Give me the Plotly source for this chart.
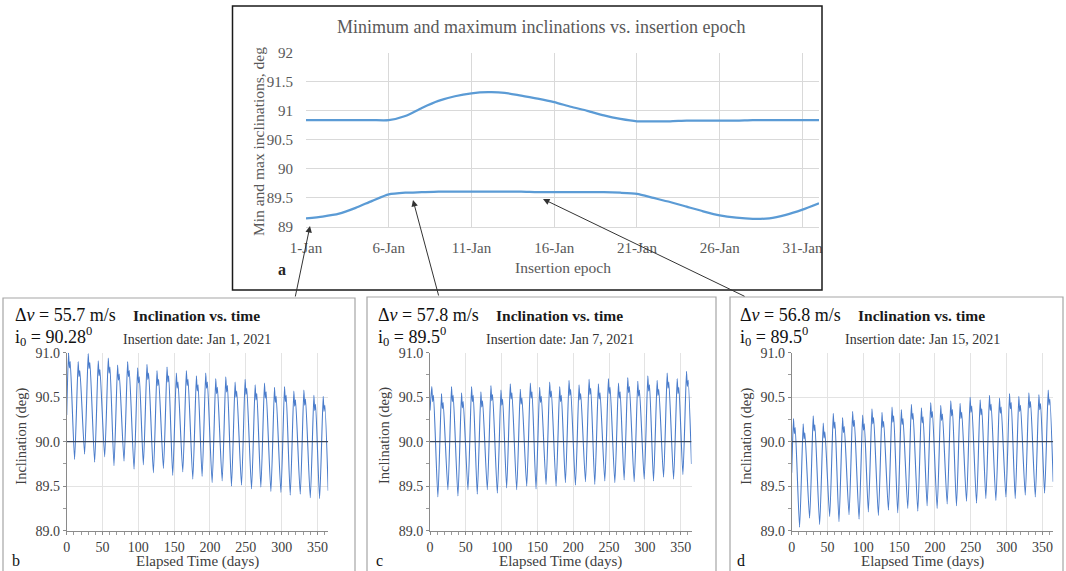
import plotly.graph_objects as go

W, H = 1066, 571


def px(x):
    return x / W


def py(y):
    return 1 - y / H


SERIF = "Liberation Serif, Times New Roman, serif"

# ---------------- Top chart (a) data ----------------
jan_day = list(range(1, 33))
max_incl = [90.84, 90.84, 90.84, 90.84, 90.84, 90.84, 90.91, 91.05, 91.17, 91.25, 91.30,
            91.32, 91.31, 91.26, 91.21, 91.15, 91.07, 91.00, 90.92, 90.86, 90.82, 90.82,
            90.82, 90.83, 90.83, 90.83, 90.83, 90.84, 90.84, 90.84, 90.84, 90.84]
min_incl = [89.15, 89.18, 89.23, 89.33, 89.45, 89.56, 89.59, 89.60, 89.61, 89.61, 89.61,
            89.61, 89.61, 89.61, 89.60, 89.60, 89.60, 89.60, 89.60, 89.59, 89.57, 89.50,
            89.43, 89.35, 89.27, 89.20, 89.16, 89.14, 89.15, 89.21, 89.30, 89.41]
top_tickvals = [1, 6, 11, 16, 21, 26, 31]
top_ticktext = ["1-Jan", "6-Jan", "11-Jan", "16-Jan", "21-Jan", "26-Jan", "31-Jan"]
top_yvals = [89, 89.5, 90, 90.5, 91, 91.5, 92]
top_ytext = ["89", "89.5", "90", "90.5", "91", "91.5", "92"]

# ---------------- Lower charts (b, c, d) data ----------------
peak_day = [2.5, 16, 30, 44, 58, 71, 85, 99, 112, 126, 140, 153, 167, 181, 194, 208, 222,
            235, 249, 263, 276, 290, 304, 317, 331, 345, 358]
dip_day = [3.7, 17.2, 31.2, 45.2, 59.2, 72.2, 86.2, 100.2, 113.2, 127.2, 141.2, 154.2,
           168.2, 182.2, 195.2, 209.2, 223.2, 236.2, 250.2, 264.2, 277.2, 291.2, 305.2,
           318.2, 332.2, 346.2, 359.2]
shoulder_day = [4.9, 18.4, 32.4, 46.4, 60.4, 73.4, 87.4, 101.4, 114.4, 128.4, 142.4,
                155.4, 169.4, 183.4, 196.4, 210.4, 224.4, 237.4, 251.4, 265.4, 278.4,
                292.4, 306.4, 319.4, 333.4, 347.4, 360.4]
trough_day = [11, 25, 39, 53, 66, 80, 94, 107, 121, 135, 148, 162, 176, 189, 203, 217,
              230, 244, 258, 271, 285, 299, 312, 326, 340, 353]
end_day = [0, 365]

# panel b (Jan 1)
b_ends = [90.30, 89.45]
b_peak = [91.00, 90.90, 90.99, 90.91, 90.94, 90.86, 90.90, 90.83, 90.87, 90.80, 90.84,
          90.77, 90.80, 90.74, 90.77, 90.71, 90.73, 90.67, 90.70, 90.64, 90.66, 90.61,
          90.62, 90.57, 90.58, 90.52, 90.51]
b_dip = [90.83, 90.73, 90.82, 90.74, 90.77, 90.69, 90.73, 90.66, 90.70, 90.63, 90.67,
         90.60, 90.63, 90.57, 90.60, 90.54, 90.56, 90.50, 90.53, 90.47, 90.49, 90.44,
         90.45, 90.40, 90.41, 90.35, 90.34]
b_shoulder = [90.90, 90.80, 90.89, 90.81, 90.84, 90.76, 90.80, 90.73, 90.77, 90.70, 90.74,
              90.67, 90.70, 90.64, 90.67, 90.61, 90.63, 90.57, 90.60, 90.54, 90.56, 90.51,
              90.52, 90.47, 90.48, 90.42, 90.41]
b_trough = [89.80, 89.86, 89.77, 89.83, 89.73, 89.78, 89.69, 89.74, 89.65, 89.70, 89.62,
            89.66, 89.58, 89.61, 89.54, 89.56, 89.50, 89.51, 89.47, 89.49, 89.44, 89.43,
            89.40, 89.41, 89.37, 89.36]

# panel c (Jan 7)
c_ends = [90.35, 89.75]
c_peak = [90.62, 90.54, 90.62, 90.55, 90.62, 90.56, 90.63, 90.58, 90.65, 90.59, 90.66,
          90.61, 90.67, 90.62, 90.69, 90.64, 90.70, 90.65, 90.71, 90.66, 90.72, 90.68,
          90.74, 90.69, 90.77, 90.71, 90.79]
c_dip = [90.45, 90.37, 90.45, 90.38, 90.45, 90.39, 90.46, 90.41, 90.48, 90.42, 90.49,
         90.44, 90.50, 90.45, 90.52, 90.47, 90.53, 90.48, 90.54, 90.49, 90.55, 90.51,
         90.57, 90.52, 90.60, 90.54, 90.62]
c_shoulder = [90.52, 90.44, 90.52, 90.45, 90.52, 90.46, 90.53, 90.48, 90.55, 90.49, 90.56,
              90.51, 90.57, 90.52, 90.59, 90.54, 90.60, 90.55, 90.61, 90.56, 90.62, 90.58,
              90.64, 90.59, 90.67, 90.61, 90.69]
c_trough = [89.38, 89.46, 89.39, 89.46, 89.41, 89.46, 89.42, 89.48, 89.46, 89.50, 89.47,
            89.52, 89.50, 89.54, 89.51, 89.55, 89.52, 89.56, 89.54, 89.57, 89.55, 89.58,
            89.56, 89.60, 89.58, 89.63]

# panel d (Jan 15)
d_ends = [89.65, 89.55]
d_peak = [90.26, 90.20, 90.29, 90.21, 90.32, 90.27, 90.34, 90.30, 90.37, 90.33, 90.39,
          90.36, 90.42, 90.38, 90.44, 90.41, 90.46, 90.43, 90.50, 90.47, 90.52, 90.49,
          90.54, 90.51, 90.55, 90.53, 90.58]
d_dip = [90.09, 90.03, 90.12, 90.04, 90.15, 90.10, 90.17, 90.13, 90.20, 90.16, 90.22,
         90.19, 90.25, 90.21, 90.27, 90.24, 90.29, 90.26, 90.33, 90.30, 90.35, 90.32,
         90.37, 90.34, 90.38, 90.36, 90.41]
d_shoulder = [90.16, 90.10, 90.19, 90.11, 90.22, 90.17, 90.24, 90.20, 90.27, 90.23, 90.29,
              90.26, 90.32, 90.28, 90.34, 90.31, 90.36, 90.33, 90.40, 90.37, 90.42, 90.39,
              90.44, 90.41, 90.45, 90.43, 90.48]
d_trough = [89.04, 89.14, 89.07, 89.16, 89.10, 89.18, 89.13, 89.21, 89.17, 89.23, 89.20,
            89.25, 89.22, 89.28, 89.25, 89.30, 89.28, 89.33, 89.31, 89.36, 89.34, 89.38,
            89.36, 89.40, 89.38, 89.42]

panel_labels = ["b", "c", "d"]
dv_text = ["55.7", "57.8", "56.8"]
i0_text = ["90.28", "89.5", "89.5"]
ins_dates = ["Jan 1, 2021", "Jan 7, 2021", "Jan 15, 2021"]
ref_line = [90.0, 90.0]


def build(ends, peaks, dips, shoulders, troughs):
    xs = [end_day[0]]
    ys = [ends[0]]
    for k in range(len(peak_day)):
        xs += [peak_day[k], dip_day[k], shoulder_day[k]]
        ys += [peaks[k], dips[k], shoulders[k]]
        if k < len(trough_day):
            xs.append(trough_day[k])
            ys.append(troughs[k])
    xs.append(end_day[1])
    ys.append(ends[1])
    return xs, ys


fig = go.Figure()

# top chart
fig.add_trace(go.Scatter(x=jan_day, y=max_incl, mode="lines", xaxis="x", yaxis="y",
                         line=dict(color="#5B9BD5", width=2.25, shape="spline", smoothing=0.6)))
fig.add_trace(go.Scatter(x=jan_day, y=min_incl, mode="lines", xaxis="x", yaxis="y",
                         line=dict(color="#5B9BD5", width=2.25, shape="spline", smoothing=0.6)))

series = [(b_ends, b_peak, b_dip, b_shoulder, b_trough),
          (c_ends, c_peak, c_dip, c_shoulder, c_trough),
          (d_ends, d_peak, d_dip, d_shoulder, d_trough)]
for i, s in enumerate(series):
    xs, ys = build(*s)
    xa = "x%d" % (i + 2)
    ya = "y%d" % (i + 2)
    fig.add_trace(go.Scatter(x=xs, y=ys, mode="lines", xaxis=xa, yaxis=ya,
                             line=dict(color="#4A7CCB", width=1.1, shape="spline", smoothing=0.6)))
    fig.add_trace(go.Scatter(x=end_day, y=ref_line, mode="lines", xaxis=xa, yaxis=ya,
                             line=dict(color="#3A4558", width=1.3)))

# layout axes
layout = dict(
    width=W, height=H, autosize=False,
    margin=dict(l=0, r=0, t=0, b=0),
    paper_bgcolor="white", plot_bgcolor="white",
    showlegend=False,
)

tick_top = dict(family=SERIF, size=15, color="#595959")
layout["xaxis"] = dict(domain=[px(306), px(819)], range=[1, 32], tickvals=top_tickvals,
                       ticktext=top_ticktext, showgrid=True, gridcolor="#d9d9d9", gridwidth=1,
                       zeroline=False, showline=True, linecolor="#d9d9d9", ticks="outside",
                       ticklen=7, tickcolor="rgba(0,0,0,0)", tickfont=tick_top,
                       anchor="y", automargin=False, fixedrange=True)
layout["yaxis"] = dict(domain=[py(227), py(52.7)], range=[89, 92], tickvals=top_yvals,
                       ticktext=top_ytext, showgrid=True, gridcolor="#d9d9d9", gridwidth=1,
                       zeroline=False, showline=False, ticks="outside", ticklen=9,
                       tickcolor="rgba(0,0,0,0)", tickfont=tick_top, anchor="x",
                       automargin=False, fixedrange=True)

lefts = [66.7, 430.0, 791.7]
pw = 261.5
tick_low = dict(family=SERIF, size=14, color="#404040")
for i, L in enumerate(lefts):
    n = i + 2
    layout["xaxis%d" % n] = dict(
        domain=[px(L), px(L + pw)], range=[0, 365], tick0=0, dtick=50,
        showgrid=True, gridcolor="#e3e3e3", gridwidth=1, zeroline=False,
        showline=True, linecolor="#8a8a8a", linewidth=1, ticks="outside", ticklen=3,
        tickcolor="#8a8a8a", tickfont=tick_low,
        minor=dict(dtick=10, tick0=0, ticks="outside", ticklen=3, tickcolor="#9a9a9a",
                   showgrid=False),
        anchor="y%d" % n, automargin=False, fixedrange=True)
    layout["yaxis%d" % n] = dict(
        domain=[py(530.7), py(352.7)], range=[89, 91], tick0=89, dtick=0.5,
        tickformat=".1f", showgrid=True, gridcolor="#e3e3e3", gridwidth=1, zeroline=False,
        showline=True, linecolor="#8a8a8a", linewidth=1, ticks="outside", ticklen=3,
        tickcolor="#8a8a8a", tickfont=tick_low,
        minor=dict(dtick=0.25, tick0=89, ticks="outside", ticklen=3, tickcolor="#9a9a9a",
                   showgrid=False),
        anchor="x%d" % n, automargin=False, fixedrange=True)

fig.update_layout(**layout)

shapes = []
# top box (black)
shapes.append(dict(type="rect", xref="paper", yref="paper", x0=px(232.5), x1=px(822),
                   y0=py(290), y1=py(6), line=dict(color="#1a1a1a", width=1.5)))
# lower boxes
for x0, x1, y0 in [(3, 355, 298), (367, 716, 297), (730, 1063, 297)]:
    shapes.append(dict(type="rect", xref="paper", yref="paper", x0=px(x0), x1=px(x1),
                       y0=py(580), y1=py(y0), line=dict(color="#a6a6a6", width=1.2)))
fig.update_layout(shapes=shapes)

ann = []
# top chart texts
ann.append(dict(text="Minimum and maximum inclinations vs. insertion epoch", x=px(541), y=py(27),
                xref="paper", yref="paper", showarrow=False, xanchor="center", yanchor="middle",
                font=dict(family=SERIF, size=18, color="#595959")))
ann.append(dict(text="Min and max inclinations, deg", x=px(259), y=py(142), textangle=-90,
                xref="paper", yref="paper", showarrow=False, xanchor="center", yanchor="middle",
                font=dict(family=SERIF, size=15.5, color="#595959")))
ann.append(dict(text="Insertion epoch", x=px(563), y=py(267),
                xref="paper", yref="paper", showarrow=False, xanchor="center", yanchor="middle",
                font=dict(family=SERIF, size=15.5, color="#595959")))
ann.append(dict(text="<b>a</b>", x=px(282), y=py(269),
                xref="paper", yref="paper", showarrow=False, xanchor="center", yanchor="middle",
                font=dict(family=SERIF, size=16, color="#262626")))

# arrows (head position in paper coords, tail as pixel offset)
for (hx, hy, tx, ty) in [(310, 226, 295, 298), (413, 200, 439, 297), (543, 199, 746, 297)]:
    ann.append(dict(text="", x=px(hx), y=py(hy), ax=tx - hx, ay=ty - hy, xref="paper",
                    yref="paper", axref="pixel", ayref="pixel", showarrow=True,
                    arrowhead=2, arrowsize=1.3, arrowwidth=1, arrowcolor="#333333"))

# lower panel texts
for i, L in enumerate(lefts):
    off = L - 66.7
    ann.append(dict(text="\u0394<i>v</i> = %s m/s" % dv_text[i], x=px(13 + off), y=py(315),
                    xref="paper", yref="paper", showarrow=False, xanchor="left",
                    yanchor="middle", font=dict(family=SERIF, size=18, color="#111111")))
    ann.append(dict(text="i<sub>0</sub> = %s<sup>0</sup>" % i0_text[i], x=px(13 + off),
                    y=py(336), xref="paper", yref="paper", showarrow=False, xanchor="left",
                    yanchor="middle", font=dict(family=SERIF, size=18, color="#111111")))
    ann.append(dict(text="<b>Inclination vs. time</b>", x=px(196 + off), y=py(315),
                    xref="paper", yref="paper", showarrow=False, xanchor="center",
                    yanchor="middle", font=dict(family=SERIF, size=15.5, color="#1a1a1a")))
    ann.append(dict(text="Insertion date: %s" % ins_dates[i], x=px(197 + off), y=py(339),
                    xref="paper", yref="paper", showarrow=False, xanchor="center",
                    yanchor="middle", font=dict(family=SERIF, size=14, color="#333333")))
    ann.append(dict(text="Inclination (deg)", x=px(L - 46), y=py(436), textangle=-90,
                    xref="paper", yref="paper", showarrow=False, xanchor="center",
                    yanchor="middle", font=dict(family=SERIF, size=14.5, color="#404040")))
    ann.append(dict(text="Elapsed Time (days)", x=px(L + pw / 2), y=py(561),
                    xref="paper", yref="paper", showarrow=False, xanchor="center",
                    yanchor="middle", font=dict(family=SERIF, size=15, color="#404040")))
    ann.append(dict(text=panel_labels[i], x=px(16 + off), y=py(560),
                    xref="paper", yref="paper", showarrow=False, xanchor="center",
                    yanchor="middle", font=dict(family=SERIF, size=16, color="#111111")))

fig.update_layout(annotations=ann)

fig.write_html("out.html")
